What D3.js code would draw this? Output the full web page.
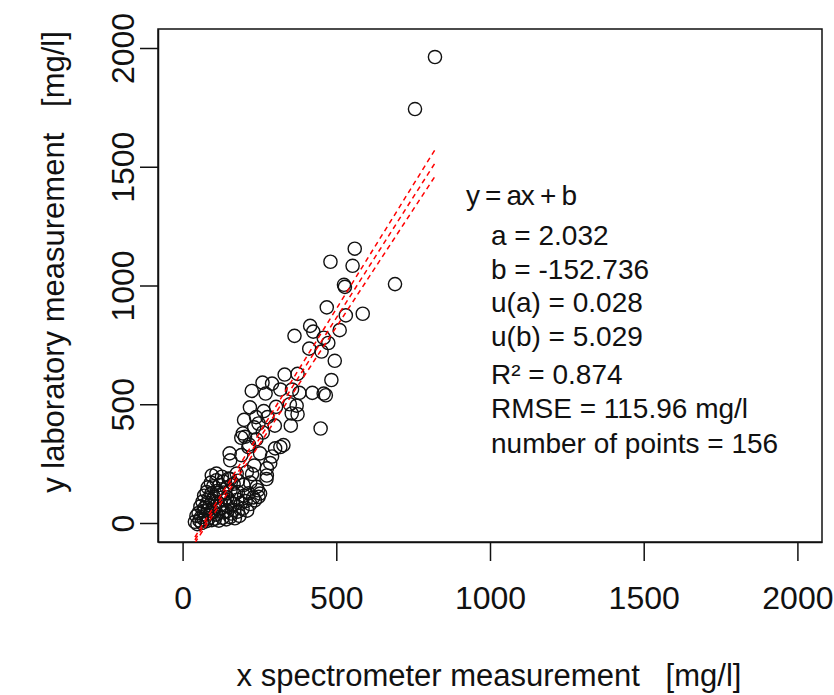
<!DOCTYPE html>
<html>
<head>
<meta charset="utf-8">
<script src="https://cdn.jsdelivr.net/npm/d3@7"></script>
<style>
  body { margin: 0; background: #fff; }
  text { font-family: "Liberation Sans", Arial, sans-serif; fill: #111; }
</style>
</head>
<body>
<svg width="834" height="695"></svg>
<script>
// spectrometer (x) vs laboratory (y), mg/l
const xValues = [
  821, 756, 560, 481, 553, 691, 525, 528, 469, 586, 531, 415, 425, 364, 511, 459, 474, 452, 412, 495,
  332, 374, 484, 260, 291, 225, 270, 318, 356, 380, 422, 459, 466, 449, 219, 264, 304, 349, 371, 355,
  374, 200, 239, 276, 300, 352, 191, 233, 240, 216, 261, 153, 191, 301, 318, 328, 291, 285, 274, 274,
  273, 247, 233, 226, 196, 203, 247, 252, 214, 155, 150, 176, 209, 241, 252,
  40, 48, 55, 62, 70, 78, 85, 95, 105, 118, 130, 142, 155, 170, 185,
  45, 52, 60, 68, 75, 82, 90, 100, 110, 120, 132, 145, 158, 168, 180, 195, 210,
  58, 65, 72, 80, 88, 96, 105, 114, 124, 135, 146, 155, 165, 178, 190, 205, 220, 235,
  70, 78, 86, 94, 102, 112, 122, 133, 145, 156, 168, 180, 200, 215, 230, 245,
  82, 92, 100, 110, 120, 132, 143, 155, 166, 180, 198, 220,
  95, 110, 128
]
const yValues = [
  1962, 1743, 1155, 1100, 1083, 1006, 1003, 994, 908, 881, 874, 830, 806, 788, 812, 780, 758, 722, 734, 683,
  625, 628, 602, 591, 587, 556, 545, 562, 562, 548, 548, 545, 538, 398, 487, 471, 489, 500, 494, 461,
  458, 434, 446, 446, 410, 410, 359, 403, 352, 330, 381, 293, 286, 314, 320, 328, 280, 252, 230, 200,
  185, 110, 242, 206, 377, 363, 419, 293, 320, 264, 187, 208, 215, 152, 124,
  5, -5, 10, 0, 15, 8, 20, 12, 18, 10, 22, 15, 25, 20, 30,
  30, 42, 25, 50, 35, 55, 40, 48, 35, 58, 45, 50, 40, 55, 48, 60, 52,
  70, 90, 65, 85, 75, 95, 70, 88, 78, 95, 72, 90, 80, 98, 85, 92, 80, 95,
  115, 130, 105, 125, 110, 135, 118, 128, 108, 138, 120, 130, 115, 125, 108, 138,
  150, 170, 155, 180, 160, 175, 150, 185, 165, 178, 160, 170,
  200, 208, 195
]
const xTicks = [0, 500, 1000, 1500, 2000]
const yTicks = [0, 500, 1000, 1500, 2000]

const slope = 2.032
const intercept = -152.736
const slopeU = 0.028
const interceptU = 5.029

const formulaText = 'y = ax + b'
const fitTexts = [
  'a = 2.032',
  'b = -152.736',
  'u(a) = 0.028',
  'u(b) = 5.029',
  'R² = 0.874',
  'RMSE = 115.96 mg/l',
  'number of points = 156'
]
const fitBaselines = [245, 279, 312, 346, 384, 418, 453]

const box = { left: 158, right: 822, top: 29, bottom: 542 }

const svg = d3.select('svg')

const xScale = d3.scaleLinear()
  .domain([-80, 2080])
  .range([box.left, box.right])

const yScale = d3.scaleLinear()
  .domain([-80, 2080])
  .range([box.bottom, box.top])

svg.append('defs').append('clipPath')
  .attr('id', 'plot-clip')
  .append('rect')
  .attr('x', box.left)
  .attr('y', box.top)
  .attr('width', box.right - box.left)
  .attr('height', box.bottom - box.top)

// x axis
const xAxis = svg.append('g')
  .attr('transform', `translate(0, ${box.bottom})`)
  .call(d3.axisBottom(xScale).tickValues(xTicks).tickFormat(d3.format('d'))
    .tickSize(19).tickSizeOuter(0).tickPadding(25))
xAxis.selectAll('text')
  .style('font-size', '32px')
  .style('font-family', '"Liberation Sans", Arial, sans-serif')
  .attr('fill', '#111')

// y axis, labels rotated like R
const yAxis = svg.append('g')
  .attr('transform', `translate(${box.left}, 0)`)
  .call(d3.axisLeft(yScale).tickValues(yTicks).tickFormat(d3.format('d'))
    .tickSize(18).tickSizeOuter(0))
yAxis.selectAll('text')
  .attr('x', 0)
  .attr('dy', 0)
  .attr('text-anchor', 'middle')
  .attr('transform', 'translate(-24, 0) rotate(-90)')
  .style('font-size', '32px')
  .style('font-family', '"Liberation Sans", Arial, sans-serif')
  .attr('fill', '#111')

svg.selectAll('.domain, .tick line')
  .attr('stroke', '#111')
  .attr('stroke-width', 1.5)

svg.append('rect')
  .attr('x', box.left)
  .attr('y', box.top)
  .attr('width', box.right - box.left)
  .attr('height', box.bottom - box.top)
  .attr('fill', 'none')
  .attr('stroke', '#111')
  .attr('stroke-width', 1.5)

svg.append('text')
  .attr('x', 489)
  .attr('y', 686)
  .attr('text-anchor', 'middle')
  .style('font-size', '31px')
  .style('white-space', 'pre')
  .text('x spectrometer measurement   [mg/l]')

svg.append('text')
  .attr('transform', 'translate(64, 262) rotate(-90)')
  .attr('text-anchor', 'middle')
  .style('font-size', '31px')
  .style('white-space', 'pre')
  .text('y laboratory measurement   [mg/l]')

// points
svg.append('g')
  .selectAll('circle')
  .data(xValues.map((x, i) => ({ x, y: yValues[i] })))
  .enter()
  .append('circle')
  .attr('cx', (d) => xScale(d.x))
  .attr('cy', (d) => yScale(d.y))
  .attr('r', 6.6)
  .attr('fill', 'none')
  .attr('stroke', '#111')
  .attr('stroke-width', 1.4)

// fit line and its bounds
const [xMin, xMax] = d3.extent(xValues)
const fits = [
  { a: slope + 2 * slopeU, b: intercept + 2 * interceptU },
  { a: slope, b: intercept },
  { a: slope - 2 * slopeU, b: intercept - 2 * interceptU }
]
svg.append('g')
  .attr('clip-path', 'url(#plot-clip)')
  .selectAll('line')
  .data(fits)
  .enter()
  .append('line')
  .attr('x1', xScale(xMin))
  .attr('y1', (d) => yScale(d.a * xMin + d.b))
  .attr('x2', xScale(xMax))
  .attr('y2', (d) => yScale(d.a * xMax + d.b))
  .attr('stroke', '#ff0000')
  .attr('stroke-width', 1.5)
  .attr('stroke-dasharray', '5,4')

svg.append('text')
  .attr('x', 466)
  .attr('y', 205)
  .attr('textLength', 111)
  .attr('lengthAdjust', 'spacing')
  .style('font-size', '28px')
  .text(formulaText)

svg.append('g')
  .selectAll('text')
  .data(fitTexts)
  .enter()
  .append('text')
  .attr('x', 491)
  .attr('y', (d, i) => fitBaselines[i])
  .style('font-size', '28px')
  .text((d) => d)
</script>
</body>
</html>
